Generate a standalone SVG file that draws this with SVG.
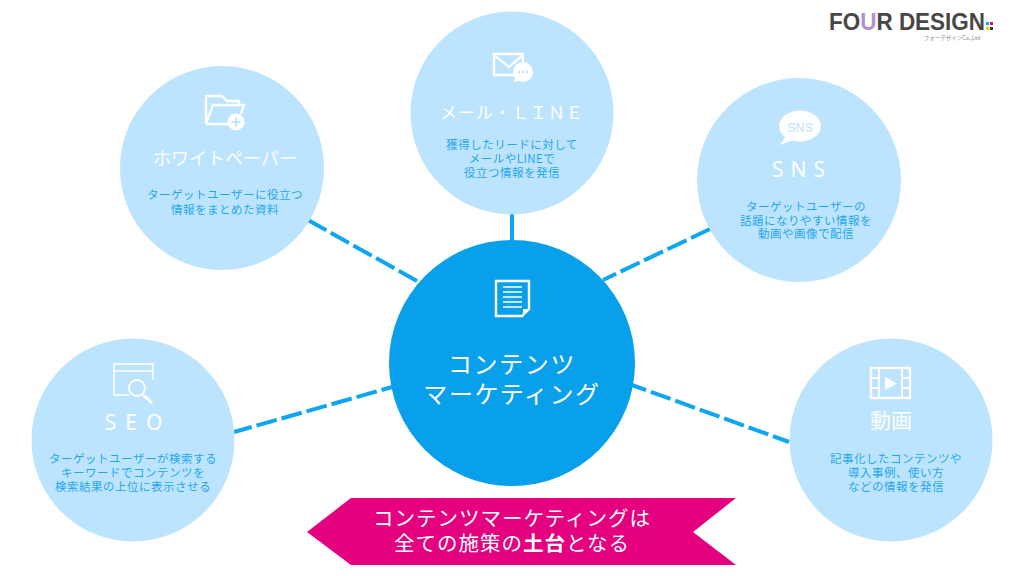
<svg xmlns="http://www.w3.org/2000/svg" width="1024" height="576" viewBox="0 0 1024 576">
<style>
text{font-family:"Noto Sans CJK JP","Noto Sans",sans-serif;text-anchor:middle}
.c{fill:#bde4fe}
.t{fill:#fff;font-size:18px;font-weight:400}
.l{fill:#fff;font-family:"Noto Sans",sans-serif;font-size:21px;font-weight:400}
.d{fill:#1fa6ee;font-size:11.5px;letter-spacing:.5px}
.ic{fill:none;stroke:#fff;stroke-width:2.4}
.w{fill:#fff}
.m{fill:#fff;font-size:24px;letter-spacing:1.6px}
.b{fill:#fff;font-size:20.5px;letter-spacing:1px}
#connectors line{stroke:#0ca6f2;stroke-width:4;stroke-dasharray:21 5;fill:none}
</style>
<rect width="1024" height="576" fill="#fff"/>
<g id="connectors">
<line x1="308" y1="220" x2="417" y2="281"/>
<line x1="512" y1="214" x2="512" y2="240" style="stroke-dasharray:none"/>
<line x1="710" y1="229" x2="603" y2="280"/>
<line x1="234" y1="432" x2="392" y2="387" style="stroke-dashoffset:2.6"/>
<line x1="632" y1="385" x2="789" y2="442" style="stroke-dashoffset:6"/>
</g>
<g id="whitepaper">
<circle class="c" cx="222" cy="168" r="102"/>
<path class="ic" d="M206 124V96H222L227 101H239V105M206 124L213 105H244L241 114M206 124H228"/>
<circle cx="236" cy="122" r="8.5" fill="#fff"/>
<path d="M231.500 122H240.500M236 117.500V126.500" stroke="#bde4fe" stroke-width="2"/>
<text class="t" x="225" y="165">ホワイトペーパー</text>
<text class="d" x="225" y="199">ターゲットユーザーに役立つ</text>
<text class="d" x="225" y="214">情報をまとめた資料</text>
</g>
<g id="mail">
<circle class="c" cx="512" cy="113" r="101.5"/>
<path class="ic" d="M516 75H494V54H523V64M494 55L509 67L523 55"/>
<circle class="w" cx="523" cy="72" r="10"/>
<path class="w" d="M515 77L514 82L522 80Z"/>
<circle cx="519" cy="72" r="1.200" fill="#bde4fe"/><circle cx="523" cy="72" r="1.200" fill="#bde4fe"/><circle cx="527" cy="72" r="1.200" fill="#bde4fe"/>
<text class="t" x="512" y="119" style="font-size:17px;letter-spacing:1px">メール・ＬＩＮＥ</text>
<text class="d" x="512" y="149">獲得したリードに対して</text>
<text class="d" x="512" y="163">メールやLINEで</text>
<text class="d" x="512" y="177">役立つ情報を発信</text>
</g>
<g id="sns">
<circle class="c" cx="799" cy="180" r="102"/>
<ellipse class="w" cx="800" cy="126" rx="21" ry="15.500"/>
<path class="w" d="M786 136L780 145L794 140Z"/>
<text x="800" y="132" style="fill:#bde4fe;font-size:12.500px;font-family:'Liberation Sans',sans-serif">SNS</text>
<text class="l" x="802" y="177" style="letter-spacing:7px">SNS</text>
<text class="d" x="806" y="211">ターゲットユーザーの</text>
<text class="d" x="806" y="225">話題になりやすい情報を</text>
<text class="d" x="806" y="238">動画や画像で配信</text>
</g>
<g id="seo">
<circle class="c" cx="133" cy="440" r="101.5"/>
<path class="ic" d="M129 395H114V364H153V380M114 371H153" style="stroke-width:1.600"/>
<circle cx="137" cy="388" r="8" fill="none" stroke="#fff" stroke-width="2"/>
<path d="M143 395L152 403" stroke="#fff" stroke-width="3"/>
<text class="l" x="138" y="430" style="letter-spacing:9px">SEO</text>
<text class="d" x="133" y="463">ターゲットユーザーが検索する</text>
<text class="d" x="133" y="477">キーワードでコンテンツを</text>
<text class="d" x="133" y="491">検索結果の上位に表示させる</text>
</g>
<g id="video">
<circle class="c" cx="891" cy="440" r="101.5"/>
<rect class="ic" x="871" y="368" width="39" height="30"/>
<path class="ic" d="M879 368V398M902 368V398M871 378H879M871 388H879M902 378H910M902 388H910" style="stroke-width:1.800"/>
<path class="w" d="M885 377V390L897 383.500Z"/>
<text class="t" x="891" y="428" style="font-size:21px">動画</text>
<text class="d" x="896" y="463">記事化したコンテンツや</text>
<text class="d" x="896" y="477">導入事例、使い方</text>
<text class="d" x="896" y="491">などの情報を発信</text>
</g>
<g id="center">
<circle cx="512" cy="363" r="123" fill="#08a0ea"/>
<path class="ic" d="M496 316V281H529V309L522 316Z"/>
<path d="M503 287H522M503 292H522M503 297H522M503 302H522M503 307H522" stroke="#fff" stroke-width="1.600"/>
<path class="w" d="M523 315V309H529Z"/>
<text class="m" x="512" y="373">コンテンツ</text>
<text class="m" x="512" y="403">マーケティング</text>
</g>
<g id="banner">
<path d="M736 498H351L307 532L351 565H736L693 532Z" fill="#e4007f"/>
<text class="b" x="512" y="526">コンテンツマーケティングは</text>
<text class="b" x="512" y="551">全ての施策の<tspan font-weight="700">土台</tspan>となる</text>
</g>
<g id="logo">
<text x="907" y="30" textLength="156" lengthAdjust="spacingAndGlyphs" style="font-family:'Liberation Sans',sans-serif;font-weight:700;font-size:24px;fill:#4a4646">FO<tspan fill="#b58fd0">U</tspan>R DESIGN</text>
<rect x="986" y="22" width="3" height="3" fill="#19a6e0"/><rect x="990" y="22" width="3" height="3" fill="#e4007f"/>
<rect x="986" y="27" width="3" height="3" fill="#f5d800"/><rect x="990" y="27" width="3" height="3" fill="#333"/>
<text x="952" y="40" style="font-size:5.500px;fill:#888">フォーデザインCo.,Ltd</text>
</g>
</svg>
